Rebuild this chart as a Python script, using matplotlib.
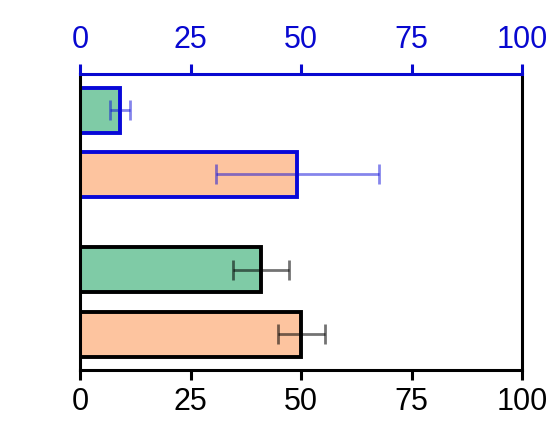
import matplotlib
matplotlib.use("Agg")
import matplotlib.pyplot as plt
import numpy as np

plt.rcParams['font.family'] = ['Liberation Sans', 'DejaVu Sans']

# Data (top to bottom)
categories = ["A-green", "A-orange", "B-green", "B-orange"]
values = [9.1, 49.2, 41.0, 50.1]
errors = [2.3, 18.5, 6.3, 5.4]
fill_colors = ["#7fcba6", "#fdc49f", "#7fcba6", "#fdc49f"]
edge_colors = ["#0808d8", "#0808d8", "#000000", "#000000"]
err_colors = [(0.05, 0.05, 0.85, 0.5), (0.05, 0.05, 0.85, 0.5),
              (0.0, 0.0, 0.0, 0.55), (0.0, 0.0, 0.0, 0.55)]
ticks = [0, 25, 50, 75, 100]

positions = [0, 1, 2.49, 3.49]

fig = plt.figure(figsize=(5.54, 4.38), dpi=100)
ax = fig.add_axes([80/554, 1-370/438, (522-80)/554, (370-74)/438])

for p, v, e, fc, ec, erc in zip(positions, values, errors, fill_colors, edge_colors, err_colors):
    ax.barh(p, v, height=0.7, color=fc, edgecolor=ec, linewidth=2.8, zorder=2)
    ax.errorbar(v, p, xerr=e, fmt='none', ecolor=erc, elinewidth=2.0,
                capsize=7, capthick=2.0, zorder=3)

ax.set_xlim(0, 100)
ax.set_ylim(4.05, -0.565)
ax.set_yticks([])
ax.set_xticks(ticks)
ax.set_xticklabels([str(t) for t in ticks])
ax.tick_params(axis='x', direction='out', length=7.5, width=2.2, labelsize=22,
               pad=5, colors='black')
for s in ['left', 'right', 'bottom']:
    ax.spines[s].set_linewidth(2.2)
    ax.spines[s].set_color('black')
ax.spines['top'].set_visible(False)

ax2 = ax.twiny()
ax2.set_xlim(0, 100)
ax2.set_xticks(ticks)
ax2.set_xticklabels([str(t) for t in ticks])
ax2.tick_params(axis='x', direction='out', length=7, width=2.2, labelsize=22,
                pad=7, colors='#0808d0')
ax2.spines['top'].set_color('#0808d0')
ax2.spines['top'].set_linewidth(2.2)
for s in ['left', 'right', 'bottom']:
    ax2.spines[s].set_visible(False)

fig.savefig("out.png", dpi=100)
